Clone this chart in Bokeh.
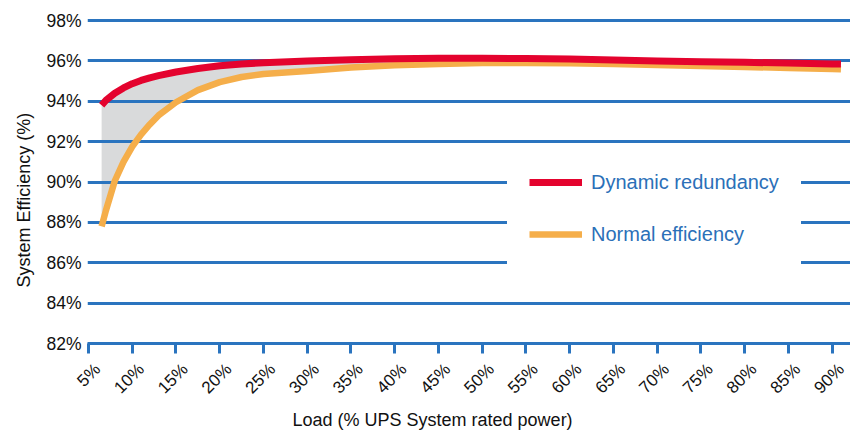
import math
from bokeh.plotting import figure
from bokeh.models import (Range1d, FixedTicker, Legend, LegendItem, Title, LinearAxis)
from bokeh.embed import file_html
from bokeh.resources import INLINE

# ---- data ----
load = [6.5, 7, 8, 9, 10, 11, 12, 13, 15, 17.5, 20, 22.5, 25, 30, 35, 40, 45,
        50, 55, 60, 65, 70, 75, 80, 85, 90, 91]
dynamic = [93.8, 94.05, 94.4, 94.66, 94.87, 95.03, 95.16, 95.27, 95.45, 95.62,
           95.76, 95.85, 95.91, 96.0, 96.06, 96.11, 96.13, 96.13, 96.12, 96.09,
           96.05, 96.0, 95.96, 95.93, 95.89, 95.85, 95.84]
normal = [87.8, 88.6, 90.05, 91.0, 91.75, 92.35, 92.85, 93.3, 93.95, 94.55,
          94.95, 95.2, 95.35, 95.5, 95.67, 95.78, 95.85, 95.9, 95.9, 95.88,
          95.85, 95.8, 95.75, 95.7, 95.65, 95.6, 95.58]

x_ticks = [5, 10, 15, 20, 25, 30, 35, 40, 45, 50, 55, 60, 65, 70, 75, 80, 85, 90]
x_labels = ["5%", "10%", "15%", "20%", "25%", "30%", "35%", "40%", "45%",
            "50%", "55%", "60%", "65%", "70%", "75%", "80%", "85%", "90%"]
y_ticks = [82, 84, 86, 88, 90, 92, 94, 96, 98]
y_labels = ["82%", "84%", "86%", "88%", "90%", "92%", "94%", "96%", "98%"]

series_names = ["Dynamic redundancy", "Normal efficiency"]

BLUE = "#2a74bf"
RED = "#e4032e"
ORANGE = "#f5ae4a"
FONT = "Liberation Sans"
TXT = "#111111"

p = figure(width=850, height=430, output_backend="svg", toolbar_location=None,
           x_range=Range1d(4.886, 92.09), y_range=Range1d(82, 98.1),
           min_border_left=87, min_border_right=0, min_border_top=18,
           min_border_bottom=87)
p.outline_line_color = None
p.background_fill_color = "white"

# grid
p.xgrid.grid_line_color = None
p.ygrid.grid_line_color = BLUE
p.ygrid.grid_line_width = 3
p.ygrid.ticker = FixedTicker(ticks=y_ticks)

# fill between the curves
p.varea(x=load, y1=normal, y2=dynamic, fill_color="#d9dadb", level="image")

r_norm = p.line(load, normal, line_color=ORANGE, line_width=6.5, line_join="round")
r_dyn = p.line(load, dynamic, line_color=RED, line_width=7, line_join="round")

# x axis: line + ticks
xa = p.xaxis[0]
xa.ticker = FixedTicker(ticks=x_ticks)
xa.major_label_overrides = {t: "" for t in x_ticks}
xa.major_label_text_font_size = "1px"
xa.major_label_standoff = 0
xa.axis_line_color = BLUE
xa.axis_line_width = 3
xa.major_tick_line_color = BLUE
xa.major_tick_line_width = 3
xa.major_tick_out = 10
xa.major_tick_in = 0
xa.minor_tick_line_color = None

# x axis: rotated labels, centred under the ticks
shift = 9.0 / 8.75
label_ticks = [t + shift for t in x_ticks]
xl = LinearAxis(ticker=FixedTicker(ticks=label_ticks),
                major_label_overrides={lt: l for lt, l in zip(label_ticks, x_labels)},
                major_label_orientation=math.pi / 4,
                axis_line_color=None, major_tick_line_color=None,
                minor_tick_line_color=None, major_label_standoff=7,
                major_label_text_font=FONT, major_label_text_font_size="17px",
                major_label_text_color=TXT)
p.add_layout(xl, "below")

ya = p.yaxis[0]
ya.ticker = FixedTicker(ticks=y_ticks)
ya.major_label_overrides = {t: l for t, l in zip(y_ticks, y_labels)}
ya.axis_line_color = None
ya.major_tick_line_color = None
ya.major_tick_out = 0
ya.major_tick_in = 0
ya.minor_tick_line_color = None
ya.major_label_standoff = 6
ya.major_label_text_font = FONT
ya.major_label_text_font_size = "17.5px"
ya.major_label_text_color = TXT

# axis titles
p.add_layout(Title(text="Load (% UPS System rated power)", align="left", offset=205,
                   standoff=2, text_font=FONT, text_font_size="18px",
                   text_font_style="normal", text_color=TXT), "below")
p.add_layout(Title(text="System Efficiency (%)", align="left", offset=56,
                   standoff=19, text_font=FONT, text_font_size="18px",
                   text_font_style="normal", text_color=TXT), "left")

legend = Legend(items=[LegendItem(label=series_names[0], renderers=[r_dyn]),
                       LegendItem(label=series_names[1], renderers=[r_norm])],
                location=(420, 75), background_fill_color="white",
                background_fill_alpha=1.0, border_line_color="white",
                border_line_width=1,
                padding=21, margin=0, spacing=28, glyph_width=53, glyph_height=24,
                label_height=24, label_standoff=9,
                label_text_font=FONT, label_text_font_size="20px",
                label_text_color="#2b70b8")
p.add_layout(legend)

open("out.html", "w").write(file_html(p, INLINE))
